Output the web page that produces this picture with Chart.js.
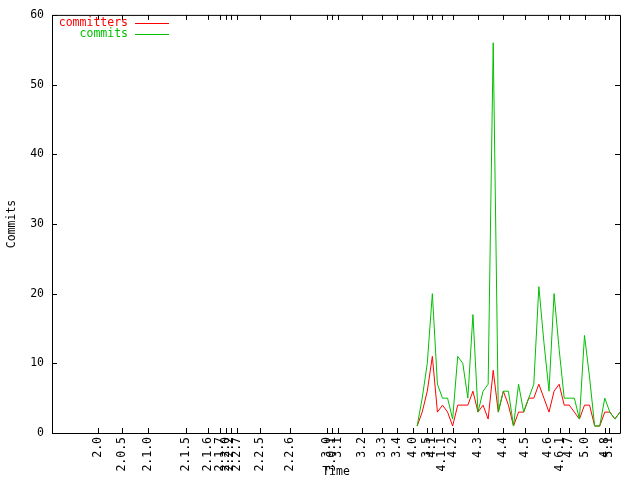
<!DOCTYPE html>
<html><head><meta charset="utf-8">
<script src="https://cdn.jsdelivr.net/npm/chart.js@4"></script>
<style>html,body{margin:0;padding:0;background:#fff;}canvas{display:block;}</style>
</head><body>
<canvas id="c" width="640" height="480"></canvas>
<script>
// month index of each data point (0 = first month with activity)
const months = [0,1,2,3,4,5,6,7,8,9,10,11,12,13,14,15,16,17,18,19,20,21,22,23,24,25,26,27,28,29,30,31,32,33,34,35,36,37,38,39,40];
const commits = [1,5,10,20,7,5,5,2,11,10,5,17,3,6,7,56,3,6,6,1,7,3,5,7,21,13,6,20,12,5,5,5,2,14,8,1,1,5,3,2,3];
const committers = [1,3,6,11,3,4,3,1,4,4,4,6,3,4,2,9,3,6,4,1,3,3,5,5,7,5,3,6,7,4,4,3,2,4,4,1,1,3,3,2,3];
// release tags on the time axis (month index)
const versionLabels = ["2.0","2.0.5","2.1.0","2.1.5","2.1.6","2.1.7","2.2.0","2.2.2","2.2.7","2.2.5","2.2.6","3.0","3.0.1","3.1","3.2","3.3","3.4","4.0","3.5","4.1","4.1.1","4.2","4.3","4.4","4.5","4.6","4.6.1","4.7","5.0","4.8","5.1"];
const versionMonths = [-63,-58.1,-53,-45.5,-41.2,-38.8,-37.75,-36.8,-35.6,-31,-25.1,-17.85,-16.87,-15.57,-10.96,-7.01,-4.06,-0.91,1.85,2.84,4.81,7.09,12.02,16.95,21.22,25.81,28.12,29.95,33.18,36.99,37.83];
const yTicks = [0,10,20,30,40,50,60];
const xMin = -72, xMax = 40;

const FONT = "'DejaVu Sans Mono', monospace";
const RED = '#ff0000', GREEN = '#00c000';

const gnuFrame = {
  id: 'gnuFrame',
  afterDatasetsDraw(chart) {
    const {ctx, chartArea: a, scales: {x, y}} = chart;
    ctx.save();
    ctx.strokeStyle = '#000';
    ctx.lineWidth = 1;
    ctx.beginPath();
    ctx.rect(a.left + 0.5, a.top + 0.5, a.right - a.left, a.bottom - a.top);
    const tl = 5;
    x.ticks.forEach(t => {
      const px = Math.round(x.getPixelForValue(t.value)) + 0.5;
      ctx.moveTo(px, a.bottom); ctx.lineTo(px, a.bottom - tl);
      ctx.moveTo(px, a.top); ctx.lineTo(px, a.top + tl);
    });
    y.ticks.forEach(t => {
      const py = Math.round(y.getPixelForValue(t.value)) + 0.5;
      ctx.moveTo(a.left, py); ctx.lineTo(a.left + tl, py);
      ctx.moveTo(a.right, py); ctx.lineTo(a.right - tl, py);
    });
    ctx.stroke();
    // legend (gnuplot style: text then line sample)
    ctx.font = '11.5px ' + FONT;
    ctx.textAlign = 'right';
    ctx.textBaseline = 'middle';
    chart.data.datasets.forEach((ds, i) => {
      const ly = 23.5 + i * 11;
      ctx.fillStyle = ds.borderColor;
      ctx.fillText(ds.label, 128, ly);
      ctx.strokeStyle = ds.borderColor;
      ctx.beginPath();
      ctx.moveTo(135, Math.floor(ly) + 0.5);
      ctx.lineTo(169, Math.floor(ly) + 0.5);
      ctx.stroke();
    });
    ctx.restore();
  }
};

new Chart(document.getElementById('c'), {
  type: 'line',
  data: {
    datasets: [
      {label: 'committers', data: months.map((m, i) => ({x: m, y: committers[i]})), borderColor: RED, backgroundColor: RED, borderWidth: 1, pointRadius: 0, tension: 0, order: 1},
      {label: 'commits', data: months.map((m, i) => ({x: m, y: commits[i]})), borderColor: GREEN, backgroundColor: GREEN, borderWidth: 1, pointRadius: 0, tension: 0, order: 0}
    ]
  },
  options: {
    responsive: false,
    animation: false,
    layout: {padding: {left: 0, top: 14, right: 20, bottom: 0}},
    plugins: {legend: {display: false}, tooltip: {enabled: false}},
    scales: {
      x: {
        type: 'linear', min: xMin, max: xMax,
        grid: {display: false, drawTicks: false},
        border: {display: false},
        afterBuildTicks: s => { s.ticks = versionMonths.map(v => ({value: v})); },
        afterFit: s => { s.height = 47; },
        ticks: {
          autoSkip: false, minRotation: 90, maxRotation: 90, padding: 4,
          color: '#000', font: {family: FONT, size: 11.5},
          callback: (v, i) => versionLabels[i]
        },
        title: {display: true, text: 'Time', color: '#000', font: {family: FONT, size: 11.5}, padding: {top: 0, bottom: 1}}
      },
      y: {
        type: 'linear', min: 0, max: 60,
        grid: {display: false, drawTicks: false},
        border: {display: false},
        afterBuildTicks: s => { s.ticks = yTicks.map(v => ({value: v})); },
        afterFit: s => { s.width = 52; },
        ticks: {padding: 8, color: '#000', font: {family: FONT, size: 11.5}},
        title: {display: true, text: 'Commits', color: '#000', font: {family: FONT, size: 11.5}, padding: {top: 5, bottom: 0}}
      }
    }
  },
  plugins: [gnuFrame]
});
</script>
</body></html>
